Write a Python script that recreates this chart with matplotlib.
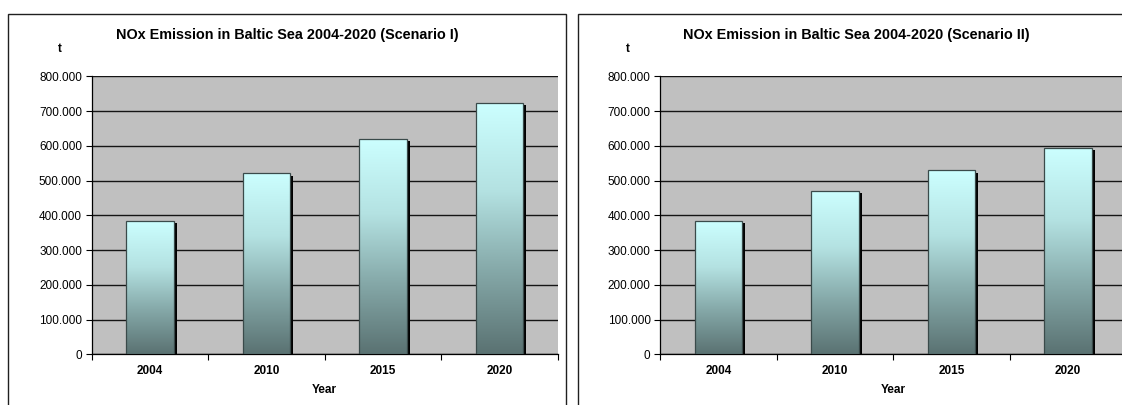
import numpy as np
import matplotlib
matplotlib.use("Agg")
import matplotlib.pyplot as plt
from matplotlib.colors import LinearSegmentedColormap
from matplotlib.patches import Rectangle
from matplotlib.ticker import FuncFormatter, FixedLocator

plt.rcParams['font.family'] = ['Liberation Sans', 'DejaVu Sans']

# emissions in tonnes per year
years = ['2004', '2010', '2015', '2020']
nox_scenario_1 = [385000, 521000, 621000, 724000]
nox_scenario_2 = [385000, 471000, 529000, 594000]
titles = ['NOx Emission in Baltic Sea 2004-2020 (Scenario I)',
          'NOx Emission in Baltic Sea 2004-2020 (Scenario II)']

W, H = 1122, 405
fig = plt.figure(figsize=(W / 100, H / 100), dpi=100)

grad = LinearSegmentedColormap.from_list(
    'teal', [(0.0, '#5a7272'), (0.35, '#88acac'), (0.65, '#b4e2e2'), (1.0, '#ccffff')])

def thousands(v, pos):
    if v == 0:
        return '0'
    return '{:,}'.format(int(v)).replace(',', '.')

def panel(px_frame, px_axes, px_t, title, values):
    # outer chart frame (runs off the bottom of the image)
    fx0, fx1 = px_frame
    fig.patches.append(Rectangle((fx0 / W, -0.2), (fx1 - fx0) / W, (H - 14) / H + 0.2,
                                 transform=fig.transFigure, fill=False,
                                 edgecolor='#202020', lw=1.0))
    fig.text((fx0 + fx1) / 2 / W, 1 - 35 / H, title, ha='center', va='center',
             fontsize=10.4, fontweight='bold')
    fig.text(px_t / W, 1 - 49 / H, 't', ha='center', va='center',
             fontsize=8.5, fontweight='bold')

    ax0, ax1 = px_axes
    ax = fig.add_axes([ax0 / W, (H - 354.3) / H, (ax1 - ax0) / W, 278 / H])
    ax.set_facecolor('#c0c0c0')

    x = np.arange(len(years))
    bw = 0.41
    dx = 3.0 / (ax1 - ax0) * 4
    dy = 2.6 / 278 * 800000
    # drop shadows
    ax.bar(x + dx, np.array(values) - dy, width=bw, color='black', zorder=2)
    bars = ax.bar(x, values, width=bw, facecolor='none', edgecolor='#3a4a4a',
                  lw=0.9, zorder=4)
    g = np.linspace(0, 1, 256).reshape(-1, 1)
    for b in bars:
        im = ax.imshow(g, cmap=grad, origin='lower', aspect='auto',
                       extent=[b.get_x(), b.get_x() + b.get_width(), 0, b.get_height()],
                       zorder=3, interpolation='bicubic')
        im.set_clip_path(b)
    ax.set_xlim(-0.5, 3.5)
    ax.set_ylim(0, 800000)

    ax.yaxis.set_major_locator(FixedLocator(np.arange(0, 800001, 100000)))
    ax.yaxis.set_major_formatter(FuncFormatter(thousands))
    ax.grid(axis='y', color='#151515', lw=1.0, zorder=1)
    ax.set_axisbelow(True)

    ax.set_xticks(np.arange(-0.5, 4, 1.0))
    ax.set_xticklabels([])
    ax.set_xticks(x, minor=True)
    ax.set_xticklabels(years, minor=True, fontweight='bold', fontsize=8.5)
    ax.tick_params(axis='x', which='minor', length=0, pad=8)
    ax.tick_params(axis='x', which='major', length=4, width=0.8, direction='out')
    ax.tick_params(axis='y', length=4, width=0.8, labelsize=8.5, pad=3)
    ax.set_xlabel('Year', fontweight='bold', fontsize=8.5, labelpad=5)

    for s in ['top', 'right']:
        ax.spines[s].set_visible(False)
    ax.spines['left'].set_linewidth(0.9)
    ax.spines['bottom'].set_linewidth(0.9)
    return ax

panel((8, 566), (91.7, 557.7), 60, titles[0], nox_scenario_1)
panel((577.7, 1135.7), (660.3, 1126.3), 628.3, titles[1], nox_scenario_2)

fig.savefig('out.png', dpi=100)
